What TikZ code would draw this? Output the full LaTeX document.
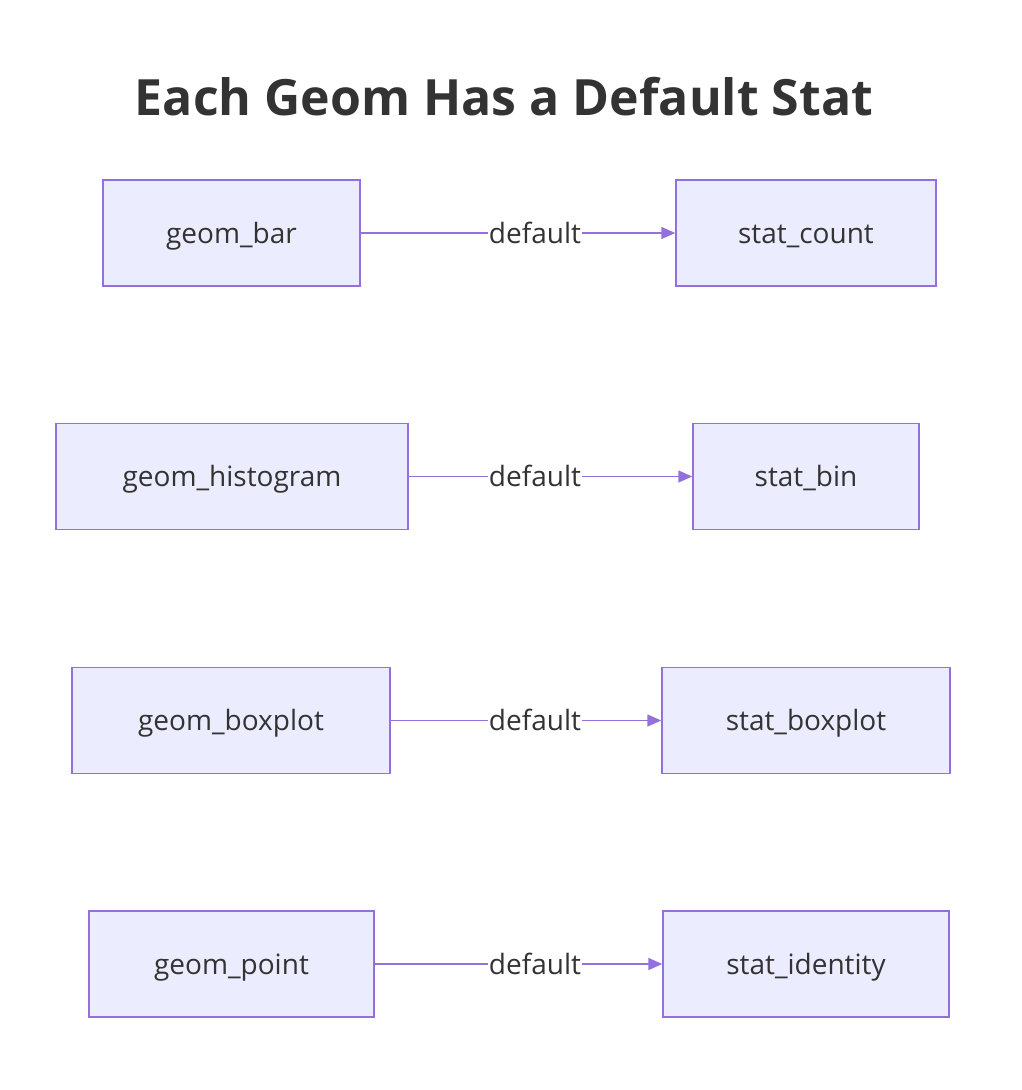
\documentclass[tikz,border=0pt]{standalone}
\usepackage{fontspec}
\setmainfont{Open Sans}
\usetikzlibrary{arrows.meta}
\definecolor{boxfill}{HTML}{ECECFF}
\definecolor{boxline}{HTML}{9370DB}
\definecolor{ink}{HTML}{333333}
\tikzset{
  box/.style={draw=boxline, fill=boxfill, line width=1.5pt, minimum height=106pt,
    text=ink, font=\fontsize{28}{32}\selectfont, inner sep=0pt, text height=20pt, text depth=0pt},
  link/.style={draw=boxline, line width=1.5pt, -{Triangle[length=14pt,width=12pt]}},
  lbl/.style={fill=white, text=ink, font=\fontsize{28}{32}\selectfont, inner sep=1pt, text height=20pt, text depth=0pt}
}
\begin{document}
\begin{tikzpicture}[x=1pt,y=-1pt]
\useasboundingbox (0,0) rectangle (1022,1090);
\node[text=ink, font=\bfseries\fontsize{50}{56}\selectfont] (title) at (504,97) {Each Geom Has a Default Stat};
% geom -> stat rows: y, left x, left width, right x, right width, left text, right text, name
\foreach \y/\lx/\lw/\rx/\rw/\ltext/\rtext/\n in {
  233/231.5/257/806/260/geom\_bar/stat\_count/bar,
  476.5/232/352/806/226/geom\_histogram/stat\_bin/hist,
  720.5/231/318/806/288/geom\_boxplot/stat\_boxplot/box,
  964/231.5/285/806/286/geom\_point/stat\_identity/point}
{
  \node[box, minimum width=\lw pt] (geom-\n) at (\lx,\y) {\ltext};
  \node[box, minimum width=\rw pt] (stat-\n) at (\rx,\y) {\rtext};
  \draw[link] (geom-\n) -- (stat-\n);
  \node[lbl] (lbl-\n) at (535,\y) {default};
}
\end{tikzpicture}
\end{document}
